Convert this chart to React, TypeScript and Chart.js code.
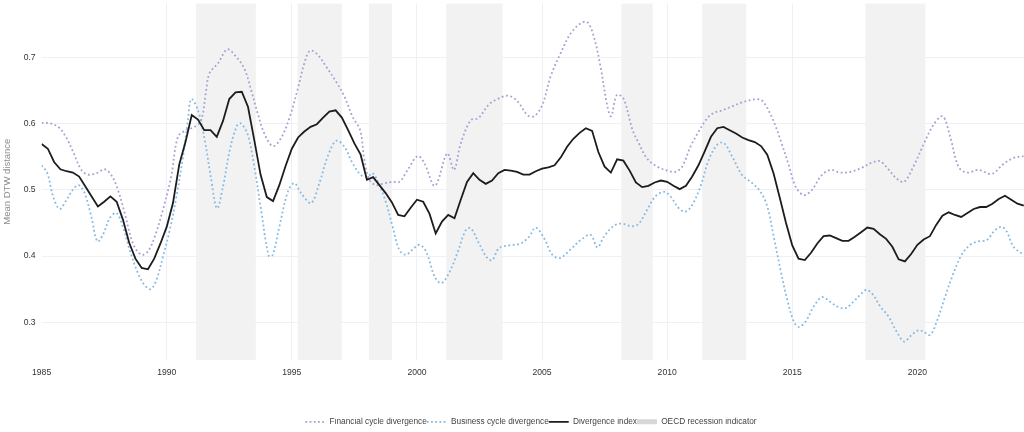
import React, { useEffect, useRef } from "react";
import { Chart, registerables } from "chart.js";

Chart.register(...registerables);

// Divergence index: quarterly values starting 1985Q1
const divergenceStart = 1985;
const divergenceStep = 0.25;
const divergenceIndex = [
  0.569, 0.562, 0.542, 0.531, 0.528, 0.526, 0.52, 0.505, 0.49, 0.475, 0.482, 0.49,
  0.482, 0.455, 0.42, 0.396, 0.382, 0.38, 0.396, 0.419, 0.444, 0.48, 0.538, 0.572,
  0.613, 0.606, 0.59, 0.59, 0.58, 0.604, 0.637, 0.647, 0.648, 0.625, 0.575, 0.523,
  0.489, 0.483, 0.507, 0.536, 0.562, 0.579, 0.588, 0.595, 0.599, 0.609, 0.618, 0.62,
  0.609, 0.59, 0.57, 0.553, 0.515, 0.519, 0.507, 0.495, 0.481, 0.462, 0.46, 0.473,
  0.485, 0.482, 0.464, 0.434, 0.452, 0.462, 0.457, 0.485, 0.512, 0.525, 0.515, 0.509,
  0.514, 0.525, 0.53, 0.529, 0.527, 0.523, 0.523, 0.528, 0.532, 0.534, 0.537, 0.549,
  0.565, 0.577, 0.586, 0.593, 0.589, 0.557, 0.535, 0.526, 0.546, 0.544, 0.529, 0.511,
  0.504, 0.506, 0.511, 0.514, 0.512, 0.506, 0.501, 0.506, 0.52, 0.537, 0.558, 0.58,
  0.593, 0.595, 0.59, 0.585, 0.579, 0.575, 0.572, 0.566, 0.553, 0.525, 0.488, 0.45,
  0.416, 0.396, 0.394, 0.405, 0.419, 0.43, 0.431, 0.427, 0.423, 0.423, 0.429, 0.436,
  0.443, 0.441, 0.433, 0.426, 0.414, 0.395, 0.392, 0.403, 0.417, 0.425, 0.43, 0.447,
  0.461, 0.466, 0.462, 0.459, 0.465, 0.471, 0.474, 0.474, 0.479, 0.486, 0.491, 0.485,
  0.479, 0.476,
];

const financialYears = [
  1985.0, 1985.39, 1985.72, 1986.0, 1986.25, 1986.59, 1986.85, 1987.19, 1987.52, 1987.79,
  1988.05, 1988.32, 1988.65, 1988.98, 1989.25, 1989.52, 1989.85, 1990.18, 1990.45, 1990.78,
  1991.11, 1991.38, 1991.58, 1991.71, 1992.05, 1992.42, 1992.77, 1993.1, 1993.37, 1993.64,
  1993.9, 1994.24, 1994.57, 1994.9, 1995.23, 1995.5, 1995.73, 1996.03, 1996.37, 1996.77,
  1997.1, 1997.43, 1997.73, 1997.9, 1998.1, 1998.37, 1998.7, 1999.03, 1999.3, 1999.63,
  2000.03, 2000.3, 2000.72, 2001.21, 2001.48, 2001.75, 2002.15, 2002.45, 2002.88, 2003.28,
  2003.65, 2004.01, 2004.41, 2004.68, 2005.01, 2005.34, 2005.74, 2006.14, 2006.54, 2006.81,
  2007.07, 2007.34, 2007.61, 2007.76, 2007.99, 2008.25, 2008.62, 2008.87, 2009.2, 2009.6,
  2010.0, 2010.33, 2010.6, 2010.93, 2011.26, 2011.6, 2011.86, 2012.2, 2012.6, 2013.0,
  2013.4, 2013.73, 2013.93, 2014.26, 2014.53, 2014.86, 2015.13, 2015.46, 2015.79, 2016.13,
  2016.51, 2016.91, 2017.31, 2017.71, 2018.18, 2018.51, 2018.84, 2019.17, 2019.47, 2019.84,
  2020.24, 2020.64, 2021.01, 2021.31, 2021.64, 2021.97, 2022.44, 2022.97, 2023.44, 2023.84,
  2024.24,
];
const financialValues = [
  0.601, 0.6, 0.593, 0.578, 0.558, 0.53, 0.523, 0.525, 0.531, 0.522,
  0.5, 0.465, 0.419, 0.402, 0.407, 0.429, 0.47, 0.52, 0.58, 0.59,
  0.595, 0.605, 0.651, 0.676, 0.691, 0.712, 0.701, 0.683, 0.651, 0.615,
  0.585, 0.566, 0.578, 0.608, 0.651, 0.691, 0.71, 0.704, 0.686, 0.663,
  0.641, 0.61, 0.59, 0.545, 0.515, 0.507, 0.51, 0.512, 0.512, 0.53,
  0.551, 0.54, 0.506, 0.555, 0.53, 0.57, 0.605, 0.608, 0.629, 0.638,
  0.642, 0.634, 0.613, 0.611, 0.628, 0.671, 0.706, 0.736, 0.751, 0.753,
  0.731, 0.685, 0.626, 0.611, 0.643, 0.638, 0.59, 0.57, 0.547, 0.535,
  0.529, 0.527, 0.535, 0.565, 0.588, 0.608, 0.616, 0.62, 0.626, 0.632,
  0.636, 0.636, 0.628, 0.603, 0.575, 0.537, 0.505, 0.492, 0.5, 0.52,
  0.53, 0.526, 0.527, 0.532, 0.541, 0.543, 0.531, 0.517, 0.512, 0.535,
  0.568, 0.598, 0.611, 0.58, 0.535, 0.526, 0.53, 0.524, 0.539, 0.548,
  0.551,
];

const businessYears = [
  1985.0, 1985.23, 1985.46, 1985.72, 1986.0, 1986.25, 1986.48, 1986.72, 1986.99, 1987.23,
  1987.45, 1987.72, 1987.99, 1988.25, 1988.52, 1988.85, 1989.12, 1989.36, 1989.59, 1989.85,
  1990.12, 1990.39, 1990.65, 1990.85, 1990.98, 1991.25, 1991.52, 1991.76, 1992.01, 1992.25,
  1992.52, 1992.82, 1992.97, 1993.24, 1993.5, 1993.77, 1994.08, 1994.24, 1994.5, 1994.84,
  1995.1, 1995.37, 1995.77, 1996.1, 1996.43, 1996.77, 1997.1, 1997.43, 1997.77, 1998.03,
  1998.23, 1998.5, 1998.77, 1999.03, 1999.3, 1999.56, 1999.83, 2000.1, 2000.36, 2000.72,
  2000.97, 2001.28, 2001.61, 2001.95, 2002.15, 2002.48, 2002.81, 2003.01, 2003.28, 2003.68,
  2004.14, 2004.48, 2004.74, 2005.08, 2005.41, 2005.72, 2006.14, 2006.54, 2006.94, 2007.21,
  2007.47, 2007.81, 2008.14, 2008.6, 2008.87, 2009.2, 2009.53, 2009.87, 2010.13, 2010.47,
  2010.73, 2011.0, 2011.33, 2011.66, 2012.0, 2012.26, 2012.6, 2013.0, 2013.4, 2013.73,
  2014.0, 2014.26, 2014.53, 2014.8, 2015.06, 2015.26, 2015.53, 2015.86, 2016.19, 2016.51,
  2016.78, 2017.11, 2017.44, 2017.78, 2017.98, 2018.24, 2018.51, 2018.84, 2019.17, 2019.47,
  2019.77, 2020.04, 2020.24, 2020.51, 2020.77, 2021.11, 2021.44, 2021.77, 2022.11, 2022.44,
  2022.77, 2023.1, 2023.37, 2023.57, 2023.84, 2024.24,
];
const businessValues = [
  0.537, 0.525, 0.49, 0.471, 0.485, 0.5, 0.507, 0.495, 0.459, 0.422,
  0.432, 0.457, 0.465, 0.444, 0.409, 0.374, 0.356, 0.35, 0.364, 0.399,
  0.439, 0.49, 0.55, 0.605, 0.637, 0.62, 0.575, 0.52, 0.472, 0.505,
  0.56, 0.598, 0.6, 0.583, 0.535, 0.47, 0.4, 0.402, 0.444, 0.497,
  0.51, 0.495, 0.48, 0.51, 0.55, 0.574, 0.565, 0.54, 0.522, 0.52,
  0.525, 0.507, 0.48, 0.444, 0.409, 0.402, 0.41, 0.417, 0.407, 0.368,
  0.359, 0.374, 0.404, 0.439, 0.442, 0.419, 0.397, 0.394, 0.412, 0.416,
  0.419, 0.429, 0.443, 0.427, 0.402, 0.397, 0.41, 0.424, 0.432, 0.413,
  0.429, 0.444, 0.449, 0.445, 0.449, 0.47, 0.49, 0.497, 0.49, 0.472,
  0.467, 0.477, 0.505, 0.545, 0.568, 0.571, 0.55, 0.522, 0.51, 0.497,
  0.475, 0.429, 0.379, 0.334, 0.301, 0.293, 0.301, 0.324, 0.338, 0.331,
  0.324, 0.321, 0.331, 0.344, 0.349, 0.341, 0.324, 0.309, 0.286, 0.271,
  0.281, 0.288, 0.286, 0.281, 0.301, 0.339, 0.374, 0.402, 0.417, 0.422,
  0.424, 0.439, 0.444, 0.437, 0.414, 0.402,
];

const recessionStarts = [1991.17, 1995.23, 1998.08, 2001.17, 2008.17, 2011.4, 2017.92];
const recessionEnds = [1993.56, 1997.0, 1999.0, 2003.42, 2009.42, 2013.16, 2020.33];

const xTicks = [1985, 1990, 1995, 2000, 2005, 2010, 2015, 2020];
const yTicks = [0.3, 0.4, 0.5, 0.6, 0.7];
const xMin = 1985;
const xMax = 2024.26;
const yMin = 0.2431;
const yMax = 0.7815;

const seriesNames = [
  "Financial cycle divergence",
  "Business cycle divergence",
  "Divergence index",
  "OECD recession indicator",
];

const FIN_COLOR = "#a99fd2";
const BUS_COLOR = "#85b9e2";
const DIV_COLOR = "#1c1c1c";
const REC_FILL = "#f2f2f2";
const REC_LEGEND = "#d7d7d7";
const GRID = "#eff0f6";

export default function App() {
  const ref = useRef<HTMLCanvasElement | null>(null);

  useEffect(() => {
    document.body.style.margin = "0";
    document.body.style.overflow = "hidden";
    const canvas = ref.current;
    if (!canvas) return;

    Chart.defaults.font.family = "'Liberation Sans', Arial, Helvetica, sans-serif";

    const divData = divergenceIndex.map((v, i) => ({ x: divergenceStart + i * divergenceStep, y: v }));
    const finData = financialYears.map((x, i) => ({ x, y: financialValues[i] }));
    const busData = businessYears.map((x, i) => ({ x, y: businessValues[i] }));
    const recData = recessionStarts.flatMap((s, i) => [
      { x: s, y: 0 },
      { x: s, y: 1 },
      { x: recessionEnds[i], y: 1 },
      { x: recessionEnds[i], y: 0 },
    ]);

    const legendShift = {
      id: "legendShift",
      afterLayout(chart: any) {
        const l = chart.legend;
        if (l) {
          l.left += 19;
          l.right += 19;
          l.top += 4;
          l.bottom += 4;
        }
      },
    };

    const chart = new Chart(canvas, {
      type: "line",
      data: {
        datasets: [
          {
            label: seriesNames[2],
            data: divData,
            borderColor: DIV_COLOR,
            borderWidth: 1.8,
            pointRadius: 0,
            tension: 0,
            fill: false,
            order: 0,
          },
          {
            label: seriesNames[0],
            data: finData,
            borderColor: FIN_COLOR,
            borderWidth: 1.8,
            borderDash: [1.8, 2.6],
            pointRadius: 0,
            tension: 0.35,
            fill: false,
            order: 1,
          },
          {
            label: seriesNames[1],
            data: busData,
            borderColor: BUS_COLOR,
            borderWidth: 1.8,
            borderDash: [1.8, 2.6],
            pointRadius: 0,
            tension: 0.35,
            fill: false,
            order: 2,
          },
          {
            label: seriesNames[3],
            data: recData,
            yAxisID: "y2",
            borderWidth: 0,
            borderColor: "rgba(0,0,0,0)",
            backgroundColor: REC_FILL,
            pointRadius: 0,
            tension: 0,
            fill: "origin",
            order: 10,
          },
        ],
      },
      options: {
        animation: false,
        responsive: true,
        maintainAspectRatio: false,
        events: [],
        layout: { padding: { top: 3.3, left: 0, right: 0, bottom: 0 } },
        plugins: {
          tooltip: { enabled: false },
          legend: {
            position: "bottom",
            align: "center",
            labels: {
              usePointStyle: true,
              pointStyleWidth: 20,
              boxWidth: 20,
              boxHeight: 5,
              padding: 0,
              color: "#444",
              font: { size: 8.3 },
              generateLabels: () => [
                {
                  text: seriesNames[0],
                  strokeStyle: FIN_COLOR,
                  fillStyle: FIN_COLOR,
                  lineWidth: 1.6,
                  lineDash: [1.8, 2.4],
                  pointStyle: "line",
                  hidden: false,
                  datasetIndex: 1,
                  fontColor: "#444",
                } as any,
                {
                  text: seriesNames[1],
                  strokeStyle: BUS_COLOR,
                  fillStyle: BUS_COLOR,
                  lineWidth: 1.6,
                  lineDash: [1.8, 2.4],
                  pointStyle: "line",
                  hidden: false,
                  datasetIndex: 2,
                  fontColor: "#444",
                } as any,
                {
                  text: seriesNames[2],
                  strokeStyle: DIV_COLOR,
                  fillStyle: DIV_COLOR,
                  lineWidth: 1.8,
                  lineDash: [],
                  pointStyle: "line",
                  hidden: false,
                  datasetIndex: 0,
                  fontColor: "#444",
                } as any,
                {
                  text: seriesNames[3],
                  strokeStyle: REC_LEGEND,
                  fillStyle: REC_LEGEND,
                  lineWidth: 0,
                  lineDash: [],
                  pointStyle: "rect",
                  hidden: false,
                  datasetIndex: 3,
                  fontColor: "#444",
                } as any,
              ],
            },
          },
        },
        scales: {
          x: {
            type: "linear",
            min: xMin,
            max: xMax,
            border: { display: false },
            grid: {
              color: (c: any) => (c.tick && c.tick.value === xMin ? "rgba(0,0,0,0)" : GRID),
              lineWidth: 1,
              drawTicks: false,
            },
            afterBuildTicks: (s: any) => {
              s.ticks = xTicks.map((v) => ({ value: v }));
            },
            afterFit: (s: any) => {
              s.height = 53.7;
              s.paddingLeft = 0;
              s.paddingRight = 0;
            },
            ticks: {
              padding: 7,
              color: "#333",
              font: { size: 8.6 },
              maxRotation: 0,
              autoSkip: false,
              callback: (v: any) => String(v),
            },
          },
          y: {
            type: "linear",
            min: yMin,
            max: yMax,
            border: { display: false },
            grid: { color: GRID, lineWidth: 1, drawTicks: false },
            afterBuildTicks: (s: any) => {
              s.ticks = yTicks.map((v) => ({ value: v }));
            },
            afterFit: (s: any) => {
              s.width = 41.6;
              s.paddingTop = 0;
              s.paddingBottom = 0;
            },
            ticks: {
              padding: 6,
              color: "#333",
              font: { size: 8.6 },
              callback: (v: any) => Number(v).toFixed(1),
            },
            title: {
              display: true,
              text: "Mean DTW distance",
              color: "#8c8c8c",
              font: { size: 9.5 },
              padding: { top: 1.3, bottom: 0 },
            },
          },
          y2: {
            type: "linear",
            display: false,
            min: 0,
            max: 1,
          },
        },
      },
      plugins: [legendShift],
    });

    return () => {
      chart.destroy();
    };
  }, []);

  return (
    <div style={{ position: "relative", width: 1024, height: 432, background: "#fff" }}>
      <canvas ref={ref} />
    </div>
  );
}
